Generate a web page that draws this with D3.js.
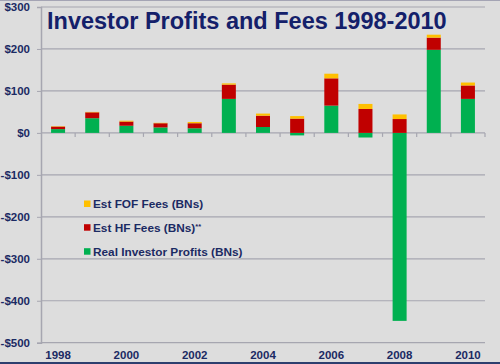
<!DOCTYPE html>
<html>
<head>
<meta charset="utf-8">
<script src="https://cdn.jsdelivr.net/npm/d3@7"></script>
<style>
  html, body { margin: 0; padding: 0; background: #dddddd; }
  svg { display: block; }
  text { font-family: "Liberation Sans", Arial, sans-serif; font-weight: bold; }
</style>
</head>
<body>
<svg id="chart" width="500" height="364"></svg>
<script>
// ---- data ----
const years = [1998, 1999, 2000, 2001, 2002, 2003, 2004, 2005, 2006, 2007, 2008, 2009, 2010];
const realProfits = [9, 35, 17, 13, 11, 81, 14, -6, 65, -11, -448, 198, 81];
const hfFees      = [6, 14, 10, 10, 12, 34, 27, 34, 65, 57, 33, 29, 32];
const fofFees     = [1, 1, 2, 1, 3, 3, 5, 6, 11, 12, 11, 7, 7];
const yTicks = [300, 200, 100, 0, -100, -200, -300, -400, -500];
const xLabelYears = [1998, 2000, 2002, 2004, 2006, 2008, 2010];
const seriesKeys = ["real", "hf", "fof"];
const seriesNames = ["Real Investor Profits (BNs)", "Est HF Fees (BNs)", "Est FOF Fees (BNs)"];
const seriesColors = ["#00b050", "#c00000", "#ffc000"];
const chartTitle = "Investor Profits and Fees 1998-2010";

(function () {
const rows = years.map((yr, i) => ({ year: yr, real: realProfits[i], hf: hfFees[i], fof: fofFees[i] }));

const svg = d3.select("#chart");
const W = 500, H = 364;
const mLeft = 41, mRight = 485, mTop = 7, mBottom = 342.7;
const navy = "#1b2a63";
const gridColor = "#a6a6b0";

svg.append("rect").attr("width", W).attr("height", H).attr("fill", "#dddddd");
svg.append("rect").attr("x", 0).attr("y", 0).attr("width", W).attr("height", 1).attr("fill", "#a4a4b4");
svg.append("rect").attr("x", 0).attr("y", 362).attr("width", W).attr("height", 2).attr("fill", "#2d3e6e");

const x = d3.scaleBand().domain(years).range([mLeft, mRight]).paddingInner(0.59).paddingOuter(0.295);
const y = d3.scaleLinear().domain([-500, 300]).range([mBottom, mTop]);

// gridlines
svg.append("g")
  .selectAll("line").data(yTicks).join("line")
  .attr("x1", mLeft).attr("x2", mRight)
  .attr("y1", d => y(d)).attr("y2", d => y(d))
  .attr("stroke", gridColor).attr("stroke-width", 1.2);

// left axis
const yAxis = svg.append("g").attr("transform", `translate(${mLeft},0)`)
  .call(d3.axisLeft(y).tickValues(yTicks).tickSize(4).tickPadding(7)
    .tickFormat(d => d < 0 ? "-$" + (-d) : "$" + d));
yAxis.select(".domain").attr("stroke", gridColor).attr("stroke-width", 1.5);
yAxis.selectAll(".tick line").attr("stroke", gridColor);
yAxis.selectAll(".tick text").attr("fill", navy).style("font-size", "11.5px")
  .style("font-family", "'Liberation Sans', Arial, sans-serif").style("font-weight", "bold");

// category boundary ticks at zero line
const step = x.step();
const boundaries = years.map((yr, i) => mLeft + (i + 1) * step);
svg.append("g").selectAll("line").data(boundaries).join("line")
  .attr("x1", d => d).attr("x2", d => d)
  .attr("y1", y(0)).attr("y2", y(0) + 4)
  .attr("stroke", gridColor).attr("stroke-width", 1.2);

// bars
const stack = d3.stack().keys(seriesKeys).offset(d3.stackOffsetDiverging);
const stacked = stack(rows);
svg.append("g").selectAll("g").data(stacked).join("g")
  .attr("fill", (d, i) => seriesColors[i])
  .selectAll("rect").data(d => d).join("rect")
  .attr("x", d => x(d.data.year))
  .attr("width", x.bandwidth())
  .attr("y", d => y(Math.max(d[0], d[1])))
  .attr("height", d => Math.abs(y(d[0]) - y(d[1])));

// x labels
const xAxis = svg.append("g").attr("transform", `translate(0,${mBottom})`)
  .call(d3.axisBottom(x).tickValues(xLabelYears).tickSize(0).tickPadding(8));
xAxis.select(".domain").remove();
xAxis.selectAll(".tick text").attr("fill", navy).style("font-size", "11.5px")
  .style("font-family", "'Liberation Sans', Arial, sans-serif").style("font-weight", "bold");

// title
svg.append("text").attr("x", 47).attr("y", 28.5)
  .attr("fill", "#14206a").style("font-size", "23.5px").text(chartTitle);

// legend (top to bottom: FOF, HF, Real)
const legendOrder = [2, 1, 0];
const legY = [204, 227.7, 251.7];
const leg = svg.append("g");
legendOrder.forEach((si, k) => {
  leg.append("rect").attr("x", 84).attr("y", legY[k] - 3.5).attr("width", 6.5).attr("height", 6.5)
    .attr("fill", seriesColors[si]);
  const t = leg.append("text").attr("x", 93).attr("y", legY[k] + 4.3)
    .attr("fill", navy).style("font-size", "11.8px").text(seriesNames[si]);
  if (si === 1) {
    t.append("tspan").attr("dy", -3).style("font-size", "7.5px").text("**");
  }
});
})();
</script>
</body>
</html>
